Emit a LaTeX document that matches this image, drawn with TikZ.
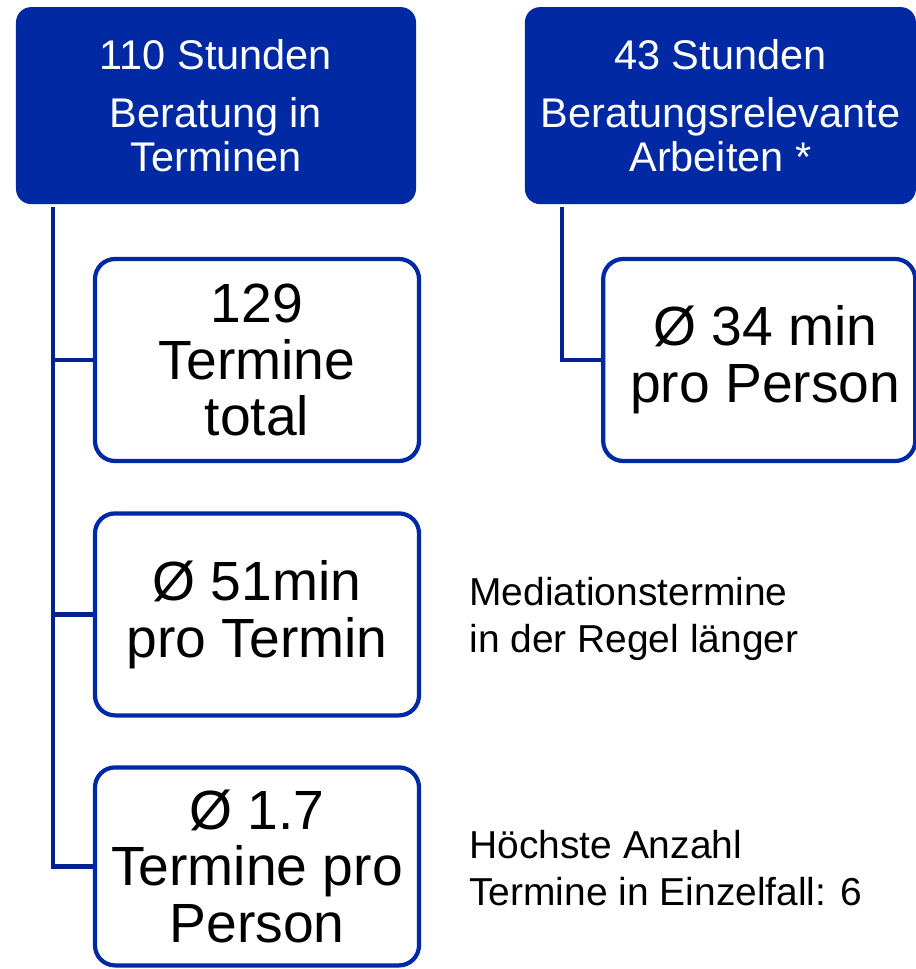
\documentclass[tikz,border=0pt]{standalone}
\usepackage{fontspec}
\setmainfont{Liberation Sans}
\usetikzlibrary{positioning}
\definecolor{hblue}{HTML}{0029A3}
\definecolor{lblue}{HTML}{00238F}
\tikzset{
  head/.style   = {fill=hblue, rounded corners=0.38cm, align=center, text=white,
                   font=\fontsize{29.5}{31.3}\selectfont, inner sep=0pt,
                   minimum width=10cm, minimum height=4.925cm},
  stat/.style   = {draw=hblue, line width=3pt, fill=white, rounded corners=0.5cm,
                   align=center, font=\fontsize{39.3}{40.3}\selectfont, inner sep=0pt,
                   minimum width=8.1cm, minimum height=5.05cm},
  note/.style   = {align=left, font=\fontsize{27.7}{33.4}\selectfont, inner sep=0pt},
  link/.style   = {draw=lblue, line width=3.5pt}
}
\begin{document}
\begin{tikzpicture}
\useasboundingbox (0,0) rectangle (22.9,-24.225);
\node[head]                          at ( 5.4  , -2.64 ) (hours)   {110 Stunden\\[10pt]Beratung in\\Terminen};
\node[head, minimum width=9.775cm]   at (18.01 , -2.64 ) (work)    {43 Stunden\\[10pt]Beratungsrelevante\\Arbeiten *};
\node[stat]                          at ( 6.425, -9.0  ) (total)   {129\\Termine\\total};
\node[stat]                          at ( 6.425,-15.36 ) (length)  {Ø 51min\\pro Termin};
\node[stat, minimum height=4.95cm]   at ( 6.425,-21.66 ) (perpers) {Ø 1.7\\Termine pro\\Person};
\node[stat, minimum width=7.8cm]     at (18.98 , -9.0  ) (minpers) {\hspace*{0.3cm}Ø 34 min\\\hspace*{0.3cm}pro Person};
\node[note, anchor=west, right=1.2cm of length, yshift=-0.12cm]  (mediation) {Mediationstermine\\in der Regel länger};
\node[note, anchor=west, right=1.2cm of perpers, yshift=-0.05cm] (maximum)   {Höchste Anzahl\\Termine in Einzelfall: 6};

\coordinate (trunkA) at ( 1.325, -5.175);
\coordinate (trunkB) at (14.05 , -5.175);

\draw[link] (trunkA) |- (perpers.west);
\draw[link] (trunkA |- total.west) -- (total.west);
\draw[link] (trunkA |- length.west) -- (length.west);
\draw[link] (trunkB) |- (minpers.west);
\end{tikzpicture}
\end{document}
